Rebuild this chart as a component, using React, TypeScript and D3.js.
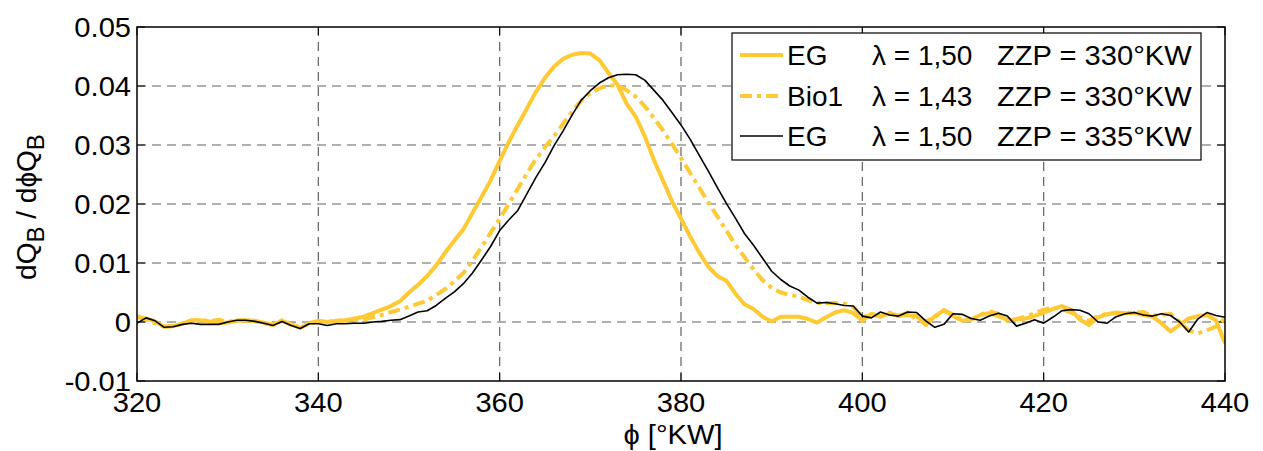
import React from "react";
import * as d3 from "d3";

const phiStart = 320;
const xTicks = [320, 340, 360, 380, 400, 420, 440];
const yTicks = [-0.01, 0, 0.01, 0.02, 0.03, 0.04, 0.05];
const yTickLabels = ["-0.01", "0", "0.01", "0.02", "0.03", "0.04", "0.05"];

// EG, lambda 1.50, ZZP 330 (values at 1 deg steps from 320 to 440)
const eg330 = [
  0.0008, 0.0006, 0.0001, -0.0008, -0.0007, -0.0003, 0.0003, 0.0003, 0.0001, -0.0002,
  -0.0001, 0.0002, 0.0003, 0.0002, -0.0001, -0.0004, 0.0002, -0.0004, -0.001, -0.0002,
  0.0002, 0.0, 0.0002, 0.0003, 0.0006, 0.0009, 0.0015, 0.0021, 0.0027, 0.0035,
  0.005, 0.0063, 0.0078, 0.0096, 0.0118, 0.0138, 0.0157, 0.0185, 0.0212, 0.024,
  0.0273, 0.0305, 0.0334, 0.0362, 0.039, 0.0414, 0.0433, 0.0446, 0.0453, 0.0456,
  0.0455, 0.0444, 0.0422, 0.0402, 0.037, 0.0348, 0.0315, 0.0275, 0.024, 0.0205,
  0.0175, 0.0145, 0.0118, 0.0094, 0.0078, 0.007, 0.0048, 0.003, 0.0022, 0.0009,
  0.0001, 0.0009, 0.0009, 0.0009, 0.0005, -0.0001, 0.0008, 0.0016, 0.002, 0.0015,
  0.0002, 0.0014, 0.001, 0.0014, 0.0011, 0.0012, 0.001, -0.0005, 0.001, 0.002,
  0.001, 0.0002, 0.0004, 0.0012, 0.0015, 0.001, 0.0004, 0.0004, 0.0006, 0.001,
  0.0016, 0.0022, 0.0027, 0.0021, 0.0004, -0.0005, 0.0008, 0.0013, 0.0016, 0.0015,
  0.0015, 0.0012, 0.0009, -0.0002, -0.0016, -0.0005, 0.0006, 0.001, 0.0012, 0.0003,
  -0.0036,
];

// Bio1, lambda 1.43, ZZP 330
const bio1 = [
  0.001, 0.0004, -0.0002, -0.0008, -0.0006, -0.0003, 0.0002, 0.0004, 0.0001, 0.0004,
  0.0, 0.0003, 0.0002, 0.0001, -0.0002, -0.0005, 0.0003, -0.0004, -0.0009, -0.0002,
  0.0001, 0.0, 0.0002, 0.0002, 0.0003, 0.0004, 0.0008, 0.0012, 0.0017, 0.0021,
  0.0026, 0.0031, 0.0036, 0.0046, 0.0056, 0.0069, 0.0083, 0.0104, 0.0127, 0.0151,
  0.0175, 0.02, 0.0226, 0.0252, 0.0276, 0.0296, 0.0315, 0.0336, 0.0357, 0.0375,
  0.0388, 0.0396, 0.0401, 0.0401, 0.0393, 0.0382, 0.0366, 0.0346, 0.0325, 0.0302,
  0.0278, 0.0253, 0.0228, 0.0203, 0.0179, 0.0155, 0.0131, 0.011, 0.0089, 0.0071,
  0.0058, 0.005, 0.0046, 0.0043, 0.0037, 0.0032, 0.0032, 0.0032, 0.0031, 0.0025,
  0.0008, 0.0013, 0.0009, 0.0016, 0.001, 0.0016, 0.0004, 0.0001, 0.0008, 0.002,
  0.0013, 0.0004, 0.0004, 0.0012, 0.0018, 0.0014, 0.0002, 0.0005, 0.0009, 0.0015,
  0.0021, 0.0024, 0.0022, 0.0016, 0.0008, 0.0002, 0.001, 0.0014, 0.0015, 0.0015,
  0.0016, 0.0017, 0.0011, 0.0012, 0.0014, 0.0, -0.0014, -0.0019, -0.0014, -0.0008,
  0.0006,
];

// EG, lambda 1.50, ZZP 335
const eg335 = [
  -0.0002, 0.0007, 0.0002, -0.0009, -0.0008, -0.0004, -0.0002, -0.0004, -0.0004, -0.0004,
  0.0, 0.0003, 0.0003, 0.0001, -0.0002, -0.0006, 0.0001, -0.0006, -0.0011, -0.0003,
  -0.0003, -0.0006, -0.0003, -0.0003, -0.0002, -0.0002, 0.0, 0.0001, 0.0003, 0.0004,
  0.001, 0.0017, 0.0019, 0.0028, 0.004, 0.0051, 0.0065, 0.0083, 0.0105, 0.0128,
  0.0155, 0.0173, 0.0189, 0.0217, 0.0245, 0.027, 0.0299, 0.0324, 0.0351, 0.0376,
  0.0392, 0.0405, 0.0414, 0.0419, 0.042, 0.0419, 0.041, 0.0393, 0.0376, 0.0355,
  0.0334, 0.031, 0.0283, 0.0256, 0.0228, 0.0201, 0.0176, 0.015, 0.013, 0.0108,
  0.0086, 0.0072, 0.0061, 0.0054, 0.0042, 0.0032, 0.0033, 0.0031, 0.0028, 0.0027,
  0.001, 0.0007, 0.0017, 0.0012, 0.001, 0.0017, 0.0016, 0.0002, -0.0009, -0.0004,
  0.0014, 0.0013, 0.0006, 0.0003, 0.001, 0.0015, 0.001, -0.0007, -0.0002, 0.0004,
  -0.0002, 0.0008, 0.0019, 0.0021, 0.002, 0.0014, 0.0, -0.0002, 0.0009, 0.0014,
  0.0016, 0.0012, 0.001, 0.0014, 0.0011, 0.0, -0.0017, 0.0005, 0.0016, 0.0011,
  0.0008,
];

const legendNames = ["EG", "Bio1", "EG"];
const legendLambda = ["1,50", "1,43", "1,50"];
const legendZZP = ["330", "330", "335"];

const W = 1263;
const H = 451;
const L = 137;
const R = 1225;
const T = 27;
const B = 381;
const FONT = "'Liberation Sans', Arial, Helvetica, sans-serif";
const YELLOW = "#FFC933";

export default function App() {
  const x = d3.scaleLinear().domain([320, 440]).range([L, R]);
  const y = d3.scaleLinear().domain([-0.01, 0.05]).range([B, T]);
  const line = d3
    .line<number>()
    .x((_, i) => x(phiStart + i))
    .y((d) => y(d));

  const series = [
    { data: eg330, stroke: YELLOW, width: 4, dash: undefined as string | undefined },
    { data: bio1, stroke: YELLOW, width: 4, dash: "12,5,4,5" },
    { data: eg335, stroke: "#000", width: 1.6, dash: undefined as string | undefined },
  ];

  const gridColor = "#606060";
  const legX = 732;
  const legY = 33;
  const legW = 469;
  const legH = 127;
  const rowY = [55, 96, 136];
  const sx = 1.04;

  return (
    <svg
      width={W}
      height={H}
      style={{ position: "absolute", left: 0, top: 0, background: "#fff" }}
      fontFamily={FONT}
    >
      <rect x={0} y={0} width={W} height={H} fill="#fff" />
      <defs>
        <clipPath id="plotclip">
          <rect x={L} y={T} width={R - L} height={B - T} />
        </clipPath>
      </defs>
      {/* grid */}
      {xTicks.slice(1, -1).map((t) => (
        <line key={"gx" + t} x1={x(t)} x2={x(t)} y1={T} y2={B} stroke={gridColor} strokeWidth={1.2} strokeDasharray="9,6" />
      ))}
      {yTicks.slice(1, -1).map((t) => (
        <line key={"gy" + t} x1={L} x2={R} y1={y(t)} y2={y(t)} stroke={gridColor} strokeWidth={1.2} strokeDasharray="9,6" />
      ))}
      {/* ticks */}
      {xTicks.map((t) => (
        <g key={"tx" + t}>
          <line x1={x(t)} x2={x(t)} y1={B} y2={B - 8} stroke="#000" />
          <line x1={x(t)} x2={x(t)} y1={T} y2={T + 8} stroke="#000" />
        </g>
      ))}
      {yTicks.map((t) => (
        <g key={"ty" + t}>
          <line x1={L} x2={L + 8} y1={y(t)} y2={y(t)} stroke="#000" />
          <line x1={R} x2={R - 8} y1={y(t)} y2={y(t)} stroke="#000" />
        </g>
      ))}
      {/* data */}
      <g clipPath="url(#plotclip)">
        {series.map((s, i) => (
          <path
            key={i}
            d={line(s.data) || ""}
            fill="none"
            stroke={s.stroke}
            strokeWidth={s.width}
            strokeDasharray={s.dash}
            strokeLinejoin="round"
          />
        ))}
      </g>
      {/* axes box */}
      <rect x={L} y={T} width={R - L} height={B - T} fill="none" stroke="#000" strokeWidth={1.5} />
      {/* tick labels */}
      {yTicks.map((t, i) => (
        <text
          key={"yl" + t}
          transform={`translate(${L - 6},${y(t) + 10}) scale(${sx},1)`}
          fontSize={28}
          textAnchor="end"
          fill="#000"
        >
          {yTickLabels[i]}
        </text>
      ))}
      {xTicks.map((t) => (
        <text
          key={"xl" + t}
          transform={`translate(${x(t)},412) scale(${sx},1)`}
          fontSize={28}
          textAnchor="middle"
          fill="#000"
        >
          {t}
        </text>
      ))}
      {/* axis labels */}
      <text transform={`translate(${(L + R) / 2 - 8},444) scale(${sx},1)`} fontSize={28} textAnchor="middle" fill="#000">
        {"ϕ [°KW]"}
      </text>
      <text transform={`translate(36,207) rotate(-90)`} fontSize={28} textAnchor="middle" fill="#000">
        <tspan>dQ</tspan>
        <tspan dy={8} fontSize={24}>B</tspan>
        <tspan dy={-8}>{" / d"}</tspan>
        <tspan>ϕ</tspan>
        <tspan>Q</tspan>
        <tspan dy={8} fontSize={24}>B</tspan>
      </text>
      {/* legend */}
      <rect x={legX} y={legY} width={legW} height={legH} fill="#fff" stroke="#000" strokeWidth={1.2} />
      {series.map((s, i) => (
        <g key={"leg" + i}>
          <line x1={740} x2={783} y1={rowY[i]} y2={rowY[i]} stroke={s.stroke} strokeWidth={s.width} strokeDasharray={s.dash} />
          <text x={787} y={rowY[i] + 10} fontSize={28} fill="#000">
            {legendNames[i]}
          </text>
          <text x={872} y={rowY[i] + 10} fontSize={28} fill="#000">
            {"λ = " + legendLambda[i]}
          </text>
          <text transform={`translate(997,${rowY[i] + 10}) scale(${sx},1)`} fontSize={28} fill="#000">
            {"ZZP = " + legendZZP[i] + "°KW"}
          </text>
        </g>
      ))}
    </svg>
  );
}
